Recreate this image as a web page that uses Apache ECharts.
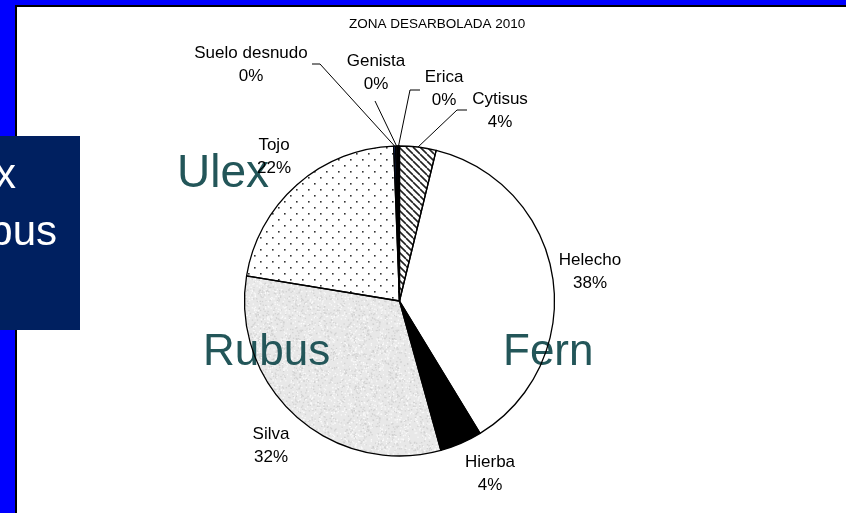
<!DOCTYPE html>
<html>
<head>
<meta charset="utf-8">
<script src="https://cdn.jsdelivr.net/npm/echarts@6/dist/echarts.min.js"></script>
<style>
  html, body { margin: 0; padding: 0; background: #fff; }
  #chart { width: 846px; height: 513px; }
</style>
</head>
<body>
<div id="chart"></div>
<script>
// ZONA DESARBOLADA 2010 - share of cover types (percent)
const title = 'ZONA DESARBOLADA 2010';
const coverNames = ['Cytisus', 'Helecho', 'Hierba', 'Silva', 'Tojo', 'Suelo desnudo', 'Genista', 'Erica'];
const coverShares = [3.8, 37.5, 4.4, 31.9, 21.8, 0.2, 0.2, 0.2];
const slideWords = ['Ulex', 'Rubus', 'Fern'];
const boxWords = ['Ulex', 'Rubus'];

const FONT = '"Liberation Sans", Arial, sans-serif';

// --- fill patterns -------------------------------------------------------
function makeTile(w, h, paint) {
  const c = document.createElement('canvas');
  c.width = w;
  c.height = h;
  paint(c.getContext('2d'), w, h);
  return c;
}

const hatch = makeTile(7, 7, (ctx, w, h) => {
  ctx.fillStyle = '#fff';
  ctx.fillRect(0, 0, w, h);
  ctx.strokeStyle = '#222';
  ctx.lineWidth = 1.6;
  ctx.beginPath();
  for (let k = -1; k <= 1; k++) {
    ctx.moveTo(k * w, 0);
    ctx.lineTo(k * w + w, h);
  }
  ctx.stroke();
});

const dots = makeTile(12, 12, (ctx, w, h) => {
  ctx.fillStyle = '#fff';
  ctx.fillRect(0, 0, w, h);
  ctx.fillStyle = '#333';
  ctx.fillRect(2, 3, 1.6, 1.6);
  ctx.fillRect(8, 9, 1.6, 1.6);
});

const granite = makeTile(96, 96, (ctx, w, h) => {
  ctx.fillStyle = '#e8e8e8';
  ctx.fillRect(0, 0, w, h);
  let s = 12345;
  const next = () => { s = (s * 1103515245 + 12345) % 2147483648; return s / 2147483648; };
  for (let i = 0; i < 1400; i++) {
    const x = next() * w, y = next() * h, g = next();
    ctx.fillStyle = g < 0.5 ? 'rgba(205,205,205,0.8)' : 'rgba(252,252,252,0.9)';
    ctx.fillRect(x, y, 1.3, 1.3);
  }
});

const fills = {
  'Cytisus': { image: hatch, repeat: 'repeat' },
  'Helecho': '#ffffff',
  'Hierba': '#000000',
  'Silva': { image: granite, repeat: 'repeat' },
  'Tojo': { image: dots, repeat: 'repeat' },
  'Suelo desnudo': '#2f62d6',
  'Genista': '#1a1a1a',
  'Erica': '#000000'
};

// label anchor spots (Excel style placement) and elbow points of leader lines
const labelSpots = {
  'Cytisus': { x: 500, y: 110.5, line: [[457, 110], [467, 110]] },
  'Helecho': { x: 590, y: 271.5 },
  'Hierba': { x: 490, y: 474 },
  'Silva': { x: 271, y: 445.5 },
  'Tojo': { x: 274, y: 156.5 },
  'Suelo desnudo': { x: 251, y: 64.5, line: [[320, 64], [312, 64]] },
  'Genista': { x: 376, y: 73, line: [[375, 101]] },
  'Erica': { x: 444, y: 88.5, line: [[410, 90], [420, 90]] }
};

const CENTER = [399.5, 301];
const RADIUS = 155;

const fillData = coverNames.map((n, i) => ({
  name: n,
  value: coverShares[i],
  itemStyle: { color: fills[n] }
}));

const outlineData = coverNames.map((n, i) => ({
  name: n,
  value: coverShares[i],
  labelLine: { show: !!labelSpots[n].line }
}));

const chart = echarts.init(document.getElementById('chart'), null, { renderer: 'canvas' });

chart.setOption({
  animation: false,
  backgroundColor: '#ffffff',
  title: {
    text: title,
    left: 344,
    top: 12,
    textStyle: { fontFamily: FONT, fontSize: 13.5, fontWeight: 'normal', color: '#000' }
  },
  graphic: [
    // slide frame
    { type: 'rect', z: 0, shape: { x: 0, y: 0, width: 846, height: 5 }, style: { fill: '#0000ff' } },
    { type: 'rect', z: 0, shape: { x: 0, y: 0, width: 15, height: 513 }, style: { fill: '#0000ff' } },
    { type: 'rect', z: 0, shape: { x: 15, y: 5, width: 831, height: 2 }, style: { fill: '#000' } },
    { type: 'rect', z: 0, shape: { x: 15, y: 5, width: 2, height: 508 }, style: { fill: '#000' } },
    { type: 'rect', z: 1, shape: { x: 0, y: 136, width: 80, height: 194 }, style: { fill: '#002060' } },
    { type: 'text', z: 1, style: { text: boxWords[0], x: 16, y: 155, align: 'right', fill: '#fff', font: '42px ' + FONT } },
    { type: 'text', z: 1, style: { text: boxWords[1], x: 57, y: 212, align: 'right', fill: '#fff', font: '42px ' + FONT } },
    // words laid over the pie
    { type: 'text', z: 3, style: { text: slideWords[0], x: 177, y: 151, fill: '#235659', font: '46px ' + FONT } },
    { type: 'text', z: 3, style: { text: slideWords[1], x: 203, y: 331, fill: '#235659', font: '44px ' + FONT } },
    { type: 'text', z: 3, style: { text: slideWords[2], x: 503, y: 331, fill: '#235659', font: '44px ' + FONT } }
  ],
  series: [
    {
      type: 'pie',
      z: 2,
      silent: true,
      center: CENTER,
      radius: RADIUS,
      startAngle: 90,
      clockwise: true,
      label: { show: false },
      labelLine: { show: false },
      emphasis: { disabled: true },
      itemStyle: { borderWidth: 0 },
      data: fillData
    },
    {
      type: 'pie',
      z: 4,
      silent: true,
      center: CENTER,
      radius: RADIUS,
      startAngle: 90,
      clockwise: true,
      percentPrecision: 0,
      avoidLabelOverlap: false,
      emphasis: { disabled: true },
      itemStyle: { color: 'rgba(0,0,0,0)', borderColor: '#000', borderWidth: 1.3 },
      label: {
        show: true,
        formatter: '{b}\n{d}%',
        fontFamily: FONT,
        fontSize: 17,
        lineHeight: 23,
        color: '#000',
        align: 'center'
      },
      labelLine: { show: true, lineStyle: { color: '#000', width: 1 } },
      labelLayout: function (p) {
        const name = coverNames[p.dataIndex];
        const spot = labelSpots[name];
        const out = { x: spot.x, y: spot.y, align: 'center', verticalAlign: 'middle', hideOverlap: false, moveOverlap: null };
        if (spot.line && p.labelLinePoints) {
          out.labelLinePoints = [p.labelLinePoints[0]].concat(spot.line);
        }
        return out;
      },
      data: outlineData
    }
  ]
});
</script>
</body>
</html>
